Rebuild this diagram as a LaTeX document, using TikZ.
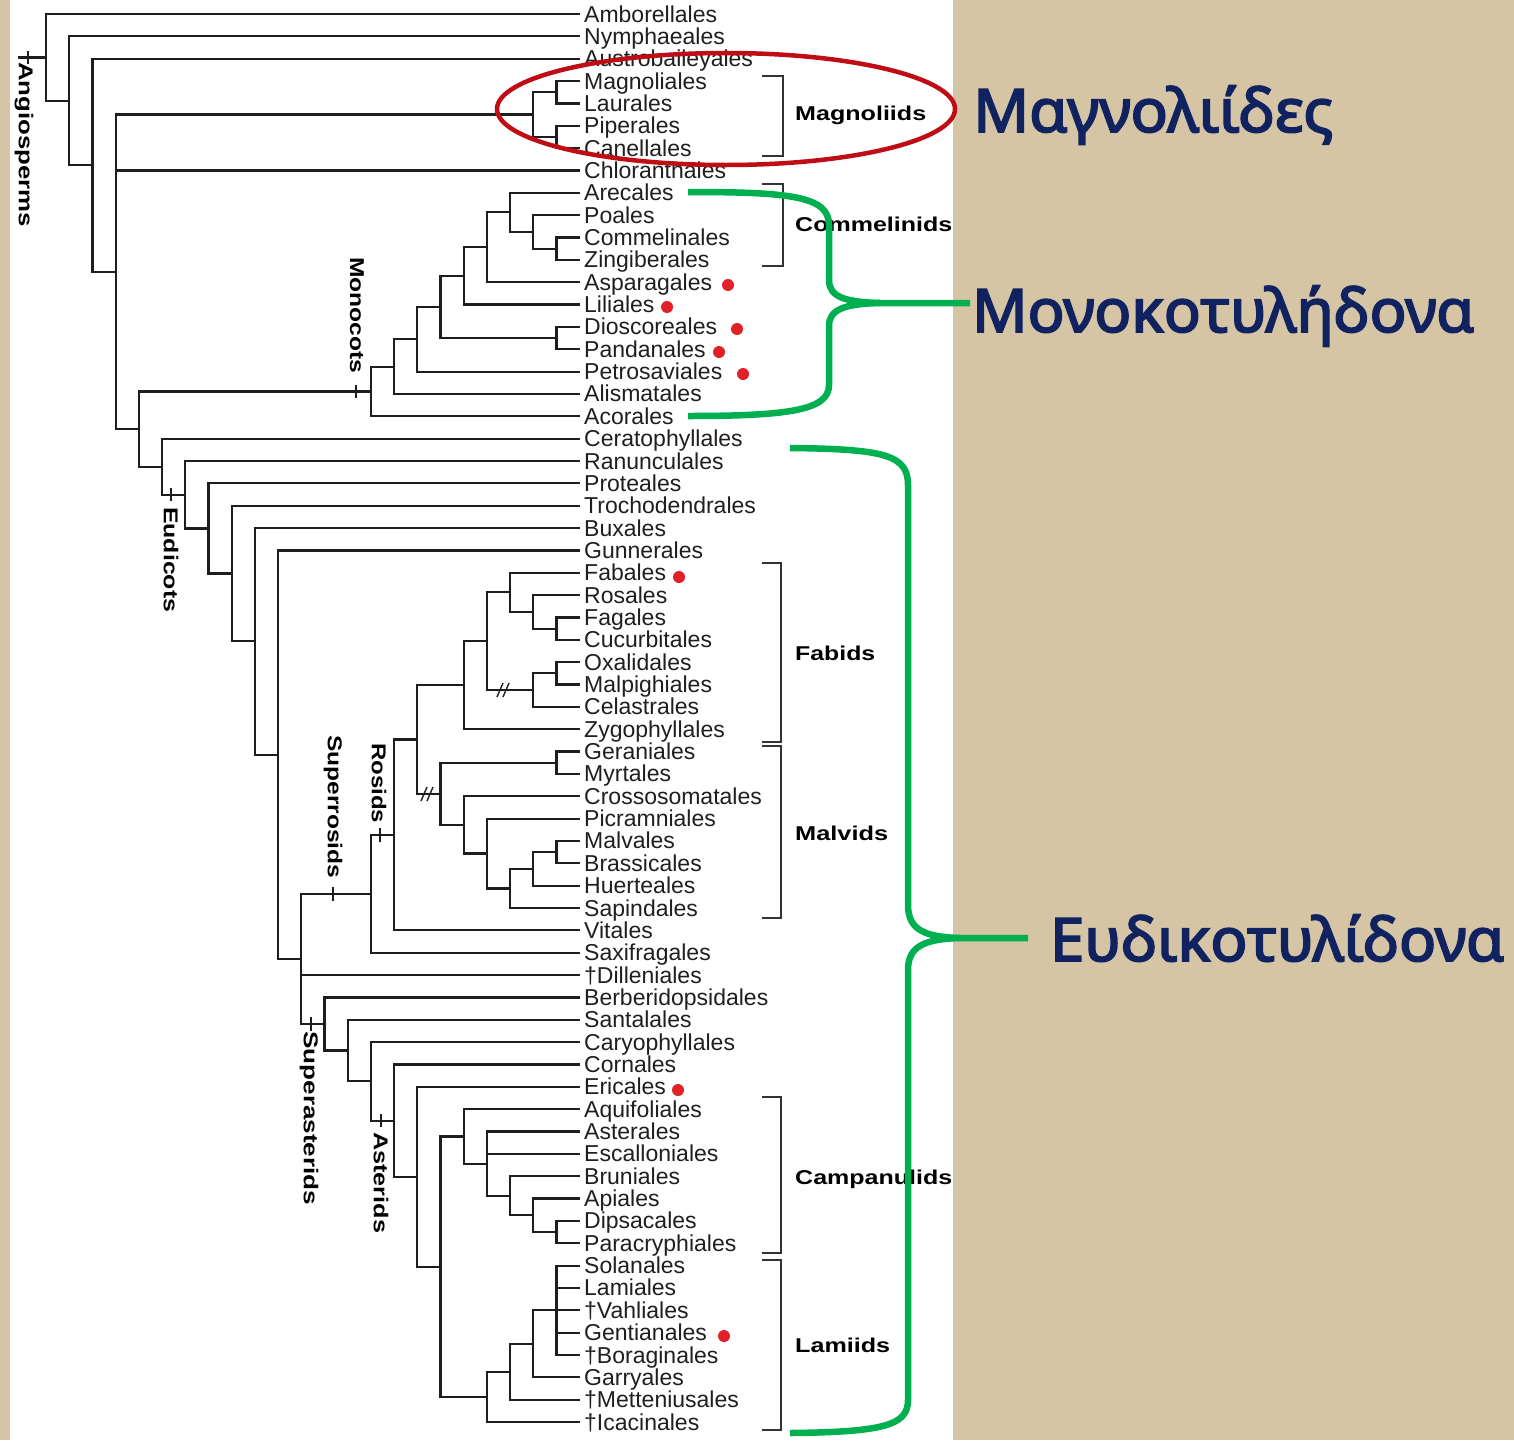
\documentclass[tikz,border=0pt]{standalone}
\usepackage{fontspec}
\setmainfont{Liberation Sans}
\newfontfamily\greekfont{Noto Sans}[AutoFakeBold=3]
\usepackage{graphicx}
\definecolor{tanbg}{RGB}{214,197,165}
\definecolor{navy}{RGB}{16,34,96}
\definecolor{bracegreen}{RGB}{0,176,80}
\definecolor{ellred}{RGB}{192,12,20}
\definecolor{dotred}{RGB}{226,32,40}
\definecolor{treeline}{RGB}{30,30,30}
\newcommand\kids[2]{\foreach \c in {#2}{\draw[br] (#1) |- (\c);}}
\newcommand\wfit[2]{\resizebox{#1}{\height}{#2}}
\begin{document}
\begin{tikzpicture}[x=1pt,y=-1pt,
  br/.style={draw=treeline,line width=2.2pt},
  leaflbl/.style={anchor=base west,inner sep=0pt,xshift=4pt,yshift=-8pt,font=\fontsize{23}{23}\selectfont,text=black!88},
  clbl/.style={anchor=base west,inner sep=0pt,font=\bfseries\fontsize{20}{20}\selectfont,text=black},
  rlbl/.style={rotate=-90,anchor=west,inner sep=0pt,font=\bfseries\fontsize{20}{20}\selectfont,text=black},
  glbl/.style={anchor=base west,inner sep=0pt,font=\greekfont\bfseries\fontsize{60}{60}\selectfont,text=navy},
  brk/.style={draw=black!80,line width=1.8pt},
  gbrace/.style={draw=bracegreen,line width=6.5pt,line cap=butt},
  dot/.style={circle,fill=dotred,inner sep=0pt,minimum size=12pt}]
\useasboundingbox (0,0) rectangle (1514,1440);
\fill[tanbg] (0,0) rectangle (1514,1440);
\fill[white] (10,0) rectangle (953,1440);

\begin{scope}[y=-22.35pt,yshift=8.35pt]
\foreach \nm [count=\i] in {Amborellales,Nymphaeales,Austrobaileyales,Magnoliales,Laurales,Piperales,Canellales,Chloranthales,Arecales,Poales,Commelinales,Zingiberales,Asparagales,Liliales,Dioscoreales,Pandanales,Petrosaviales,Alismatales,Acorales,Ceratophyllales,Ranunculales,Proteales,Trochodendrales,Buxales,Gunnerales,Fabales,Rosales,Fagales,Cucurbitales,Oxalidales,Malpighiales,Celastrales,Zygophyllales,Geraniales,Myrtales,Crossosomatales,Picramniales,Malvales,Brassicales,Huerteales,Sapindales,Vitales,Saxifragales,†Dilleniales,Berberidopsidales,Santalales,Caryophyllales,Cornales,Ericales,Aquifoliales,Asterales,Escalloniales,Bruniales,Apiales,Dipsacales,Paracryphiales,Solanales,Lamiales,†Vahliales,Gentianales,†Boraginales,Garryales,†Metteniusales,†Icacinales}{
  \coordinate (L\i) at (580,\i);
  \node[leaflbl] (T\i) at (L\i) {\nm};
}
\coordinate (mag1) at (556.4,4.5);
\coordinate (mag2) at (556.4,6.5);
\coordinate (mag) at (533.2,5.5);
\coordinate (cz) at (556.4,11.5);
\coordinate (pcz) at (533.2,10.75);
\coordinate (comm) at (510,9.875);
\coordinate (mc2) at (486.8,11.4375);
\coordinate (mc3) at (463.6,12.71875);
\coordinate (dp) at (556.4,15.5);
\coordinate (mc4) at (440.4,14.109375);
\coordinate (mc5) at (417.2,15.5546875);
\coordinate (mc6) at (394,16.77734375);
\coordinate (mono) at (370.8,17.888671875);
\coordinate (fc) at (556.4,28.5);
\coordinate (rfc) at (533.2,27.75);
\coordinate (nfc) at (510,26.875);
\coordinate (om) at (556.4,30.5);
\coordinate (com) at (533.2,31.25);
\coordinate (fab2) at (486.8,29.0625);
\coordinate (fabids) at (463.6,31.03125);
\coordinate (gm) at (556.4,34.5);
\coordinate (mb) at (556.4,38.5);
\coordinate (mbh) at (533.2,39.25);
\coordinate (mbhs) at (510,40.125);
\coordinate (pic) at (486.8,38.5625);
\coordinate (cros) at (463.6,37.28125);
\coordinate (malvids) at (440.4,35.890625);
\coordinate (rcore) at (417.2,33.4609375);
\coordinate (rosids) at (394,37.73046875);
\coordinate (superros) at (370.8,40.365234);
\coordinate (dp2) at (556.4,55.5);
\coordinate (adp) at (533.2,54.75);
\coordinate (badp) at (510,53.875);
\coordinate (camp2) at (486.8,52.4375);
\coordinate (campan) at (463.6,51.21875);
\coordinate (lampoly) at (556.4,59);
\coordinate (lg) at (533.2,60.5);
\coordinate (lgm) at (510,61.75);
\coordinate (lamiids) at (486.8,62.875);
\coordinate (coreast) at (440.4,57.046875);
\coordinate (eri) at (417.2,53.0234375);
\coordinate (asterids) at (394,50.51171875);
\coordinate (car) at (370.8,48.755859);
\coordinate (san) at (347.6,47.377930);
\coordinate (superast) at (324.4,46.188965);
\coordinate (penta) at (301.2,43.277100);
\coordinate (gun) at (278,34.138550);
\coordinate (bux) at (254.8,29.069275);
\coordinate (tro) at (231.6,26.034637);
\coordinate (pro) at (208.4,24.017319);
\coordinate (eud) at (185.2,22.508659);
\coordinate (cer) at (162,21.254330);
\coordinate (me) at (138.8,19.571501);
\coordinate (mesang) at (115.6,12.535750);
\coordinate (n3) at (92.4,7.767875);
\coordinate (n2) at (69.2,4.883938);
\coordinate (root) at (46,2.941969);
\coordinate (angst) at (18,2.941969);

\kids{root}{L1,n2}
\kids{n2}{L2,n3}
\kids{n3}{L3,mesang}
\kids{mesang}{mag,L8,me}
\kids{mag}{mag1,mag2}
\kids{mag1}{L4,L5}
\kids{mag2}{L6,L7}
\kids{me}{mono,cer}
\kids{mono}{mc6,L19}
\kids{mc6}{mc5,L18}
\kids{mc5}{mc4,L17}
\kids{mc4}{mc3,dp}
\kids{dp}{L15,L16}
\kids{mc3}{mc2,L14}
\kids{mc2}{comm,L13}
\kids{comm}{L9,pcz}
\kids{pcz}{L10,cz}
\kids{cz}{L11,L12}
\kids{cer}{L20,eud}
\kids{eud}{L21,pro}
\kids{pro}{L22,tro}
\kids{tro}{L23,bux}
\kids{bux}{L24,gun}
\kids{gun}{L25,penta}
\kids{penta}{superros,L44,superast}
\kids{superros}{rosids,L43}
\kids{rosids}{rcore,L42}
\kids{rcore}{fabids,malvids}
\kids{fabids}{fab2,L33}
\kids{fab2}{nfc,com}
\kids{nfc}{L26,rfc}
\kids{rfc}{L27,fc}
\kids{fc}{L28,L29}
\kids{com}{om,L32}
\kids{om}{L30,L31}
\kids{malvids}{gm,cros}
\kids{gm}{L34,L35}
\kids{cros}{L36,pic}
\kids{pic}{L37,mbhs}
\kids{mbhs}{mbh,L41}
\kids{mbh}{mb,L40}
\kids{mb}{L38,L39}
\kids{superast}{L45,san}
\kids{san}{L46,car}
\kids{car}{L47,asterids}
\kids{asterids}{L48,eri}
\kids{eri}{L49,coreast}
\kids{coreast}{campan,lamiids}
\kids{campan}{L50,camp2}
\kids{camp2}{L51,L52,badp}
\kids{badp}{L53,adp}
\kids{adp}{L54,dp2}
\kids{dp2}{L55,L56}
\kids{lamiids}{lgm,L64}
\kids{lgm}{lg,L63}
\kids{lg}{lampoly,L62}
\kids{lampoly}{L57,L58,L59,L60,L61}
\draw[br] (root) -- (angst);
% ticks
\draw[br] (28,2.64) -- (28,3.24);
\draw[br] (356,17.59) -- (356,18.19);
\draw[br] (171,22.21) -- (171,22.81);
\draw[br] (333,40.07) -- (333,40.67);
\draw[br] (380,37.43) -- (380,38.03);
\draw[br] (311,45.89) -- (311,46.49);
\draw[br] (381,50.21) -- (381,50.81);
\end{scope}

% double slashes
\draw[br,line width=1.4pt] (497,697) -- (503,683) (503,697) -- (509,683);
\draw[br,line width=1.4pt] (421,801) -- (427,787) (427,801) -- (433,787);

% rotated clade labels
\node[rlbl] (rang) at (24,62) {\wfit{165pt}{Angiosperms}};
\node[rlbl] (rmono) at (357,257) {\wfit{116pt}{Monocots}};
\node[rlbl] (reud) at (171,507) {\wfit{105pt}{Eudicots}};
\node[rlbl] (rsros) at (333,735) {\wfit{143pt}{Superrosids}};
\node[rlbl] (rros) at (379,743) {\wfit{80pt}{Rosids}};
\node[rlbl] (rsast) at (309,1031) {\wfit{174pt}{Superasterids}};
\node[rlbl] (rast) at (381,1132) {\wfit{101pt}{Asterids}};

% red dots
\node[dot] (d1) at (728,285) {};
\node[dot] (d2) at (667,307) {};
\node[dot] (d3) at (737,329) {};
\node[dot] (d4) at (719,352) {};
\node[dot] (d5) at (743,374) {};
\node[dot] (d6) at (679,577) {};
\node[dot] (d7) at (678,1090) {};
\node[dot] (d8) at (724,1336) {};

% brackets
\draw[brk] (762,76) -- (783,76) -- (783,156) -- (762,156);
\draw[brk] (762,184) -- (783,184) -- (783,266) -- (762,266);
\draw[brk] (762,563) -- (781,563) -- (781,742) -- (762,742);
\draw[brk] (762,746) -- (781,746) -- (781,918) -- (762,918);
\draw[brk] (762,1097) -- (781,1097) -- (781,1253) -- (762,1253);
\draw[brk] (762,1260) -- (781,1260) -- (781,1430) -- (762,1430);

% clade labels
\node[clbl] (cmag) at (795,120) {\wfit{131pt}{Magnoliids}};
\node[clbl] (ccom) at (795,231) {\wfit{157pt}{Commelinids}};
\node[clbl] (cfab) at (795,660) {\wfit{80pt}{Fabids}};
\node[clbl] (cmal) at (795,840) {\wfit{93pt}{Malvids}};
\node[clbl] (ccam) at (795,1184) {\wfit{157pt}{Campanulids}};
\node[clbl] (clam) at (795,1352) {\wfit{95pt}{Lamiids}};

% red ellipse
\draw[ellred,line width=4.5pt] (726,109) ellipse [x radius=229pt,y radius=56pt];

% green braces
\draw[gbrace] (688,192) .. controls (790,192) and (829,196) .. (829,225) -- (829,280) .. controls (829,297) and (845,302) .. (880,303) -- (970,303);
\draw[gbrace] (880,303) .. controls (845,304) and (829,309) .. (829,326) -- (829,385) .. controls (829,410) and (790,416) .. (688,416);
\draw[gbrace] (790,448) .. controls (885,449) and (908,455) .. (908,485) -- (908,905) .. controls (908,930) and (925,937) .. (960,938) -- (1028,938);
\draw[gbrace] (960,938) .. controls (925,939) and (908,946) .. (908,970) -- (908,1400) .. controls (908,1425) and (885,1432) .. (790,1433);

% Greek labels
\node[glbl] (gmag) at (973,132) {\wfit{360pt}{Μαγνολιίδες}};
\node[glbl] (gmono) at (972,332) {\wfit{502pt}{Μονοκοτυλήδονα}};
\node[glbl] (geud) at (1050,961) {\wfit{454pt}{Ευδικοτυλίδονα}};
\end{tikzpicture}
\end{document}
